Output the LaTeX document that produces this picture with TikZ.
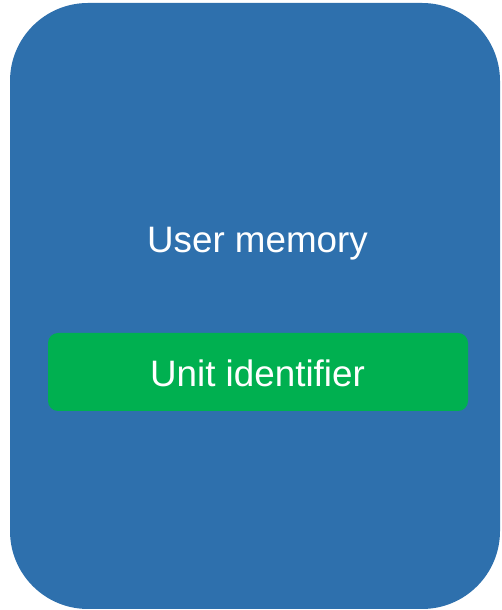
\documentclass[tikz,border=0pt]{standalone}
\usepackage{fontspec}
\setmainfont{Liberation Sans}
\definecolor{outerblue}{RGB}{46,112,173}
\definecolor{innergreen}{RGB}{0,176,80}
\begin{document}
\begin{tikzpicture}[x=1pt,y=1pt,
  outerbox/.style={fill=outerblue,draw=none,rounded corners=78pt},
  greenbox/.style={fill=innergreen,draw=none,rounded corners=10pt},
  label/.style={text=white,anchor=base,inner sep=0pt,font=\fontsize{36.8}{44}\selectfont}]
\useasboundingbox (0,0) rectangle (501,610);
\path[outerbox] (10,1) rectangle (500,607);
\path[greenbox] (48,199) rectangle (468,277);
\node[label] (mem) at (257.5,357) {User memory};
\node[label] (uid) at (257.5,223) {Unit identifier};
\end{tikzpicture}
\end{document}
